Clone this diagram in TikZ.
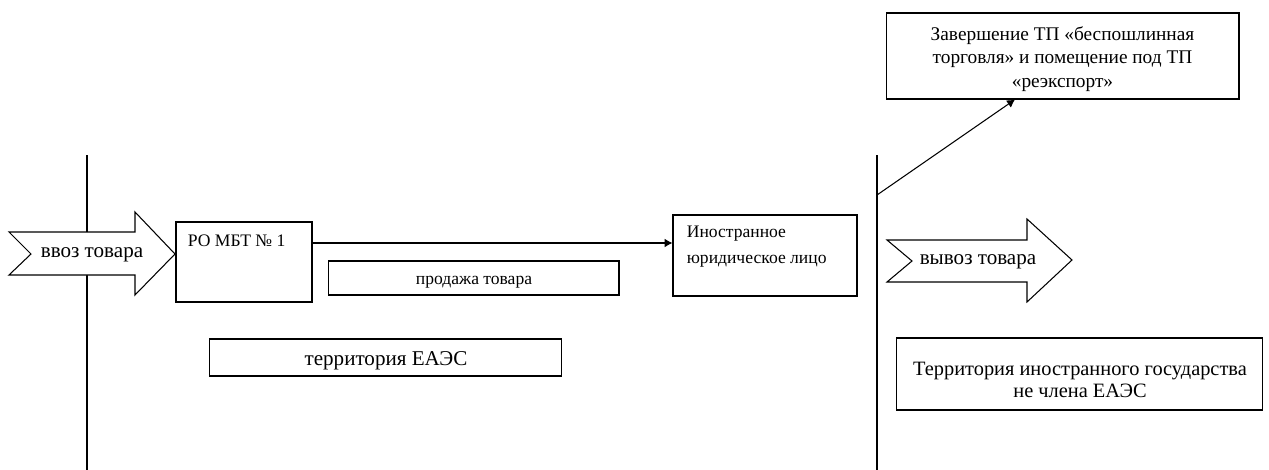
\documentclass[tikz,border=0pt]{standalone}
\usepackage{fontspec}
\setmainfont{Liberation Serif}
\usetikzlibrary{positioning, arrows.meta}
\tikzset{
>={Latex[length=4.5pt, width=5pt]}, % filled arrow heads
box/.style={draw, line width=0.6pt, fill=white, inner sep=0pt}, % plain rectangles
txt/.style={inner sep=0pt, align=left, font=\fontsize{10}{14.7}\selectfont}, % text set at the top left of a box
ctxt/.style={inner sep=0pt, align=center, font=\fontsize{11}{13.5}\selectfont}, % centred text
border/.style={line width=0.6pt}, % the two border lines
bigarrow/.style={draw, line width=0.6pt, fill=white}, % the wide arrows
conn/.style={->, line width=0.6pt}, % connectors
}

\begin{document}
\begin{tikzpicture}[x=0.02cm, y=-0.02cm]
    \useasboundingbox (0,0) rectangle (1269,470);
    % border lines
    \draw[border] (87,155) -- (87,470);
    \draw[border] (877,155) -- (877,470);
    \coordinate (exitPoint) at (877,195);
    % wide arrows
    \draw[bigarrow] (9,232) -- (135,232) -- (135,212) -- (175,254) -- (135,295) -- (135,275) -- (9,275) -- (31,254) -- cycle;
    \node[ctxt, font=\fontsize{12}{14}\selectfont, anchor=base] (import) at (92,257) {ввоз товара};
    \draw[bigarrow] (887,240) -- (1027,240) -- (1027,219) -- (1072,260) -- (1027,302) -- (1027,282) -- (887,282) -- (912,261) -- cycle;
    \node[ctxt, font=\fontsize{12}{14}\selectfont, anchor=base] (export) at (978,264) {вывоз товара};
    % boxes
    \node[box, minimum width=2.72cm, minimum height=1.6cm] (rombt) at (244,262) {};
    \node[txt, anchor=base west] (rombtText) at ([shift={(12,25)}]rombt.north west) {РО МБТ № 1};
    \node[box, minimum width=3.68cm, minimum height=1.62cm] (ino) at (765,255.5) {};
    \node[txt, anchor=north west] (inoText) at ([shift={(14,11)}]ino.north west) {Иностранное\\юридическое лицо};
    \node[box, minimum width=5.82cm, minimum height=0.68cm] (sale) at (473.5,278) {};
    \node[ctxt, font=\fontsize{10}{12}\selectfont, anchor=base] (saleText) at (474,284) {продажа товара};
    \node[box, minimum width=7.06cm, minimum height=0.74cm] (eaes) at (385.5,357.5) {};
    \node[ctxt, font=\fontsize{12}{14}\selectfont, anchor=base] (eaesText) at (386,365) {территория ЕАЭС};
    \node[box, minimum width=7.06cm, minimum height=1.72cm] (finish) at (1062.5,56) {};
    \node[ctxt] (finishText) at (1062.5,59) {Завершение ТП «беспошлинная\\торговля» и помещение под ТП\\«реэкспорт»};
    \node[box, minimum width=7.34cm, minimum height=1.44cm] (foreign) at (1079.5,374) {};
    \node[ctxt, font=\fontsize{11.6}{12.6}\selectfont] (foreignText) at (1080,380) {Территория иностранного государства\\не члена ЕАЭС};
    % connectors
    \draw[conn] ([yshift=0.38cm]rombt.east) -- ([yshift=0.38cm]rombt.east -| ino.west);
    \draw[conn] (exitPoint) -- ([xshift=-0.95cm]finish.south);
\end{tikzpicture}
\end{document}
